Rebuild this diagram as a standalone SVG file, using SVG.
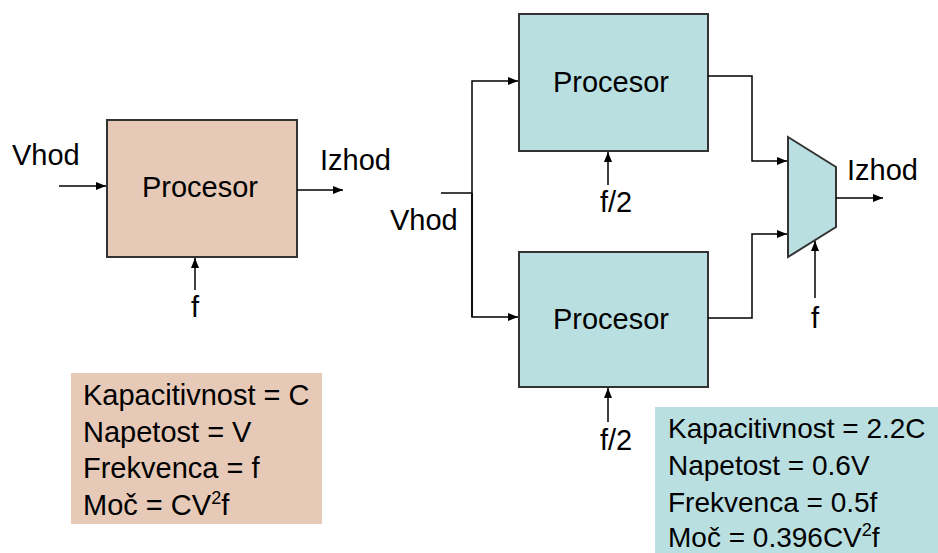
<svg xmlns="http://www.w3.org/2000/svg" width="938" height="553" viewBox="0 0 938 553">
<defs>
<marker id="arr" markerWidth="10" markerHeight="8" refX="10" refY="4" orient="auto" markerUnits="userSpaceOnUse">
<path d="M0,0 L10,4 L0,8 Z" fill="#000"/>
</marker>
<style>
text{font-family:"Liberation Sans",Arial,sans-serif;fill:#000;}
.lbl{font-size:29px;}
.info{font-size:28px;}
.tan{fill:#e6c9b7;}
.cyan{fill:#b9dfe1;}
.blk{stroke:#333;stroke-width:2;}
.wire{fill:none;stroke:#000;stroke-width:1.5;}
.arrw{fill:none;stroke:#000;stroke-width:1.5;marker-end:url(#arr);}
</style>
</defs>
<rect width="938" height="553" fill="#fff"/>

<g id="proc-left">
<rect class="tan blk" x="107" y="120" width="190" height="137"/>
<text class="lbl" x="200" y="197" text-anchor="middle">Procesor</text>
</g>
<g id="vhod-left"><text class="lbl" x="12" y="165">Vhod</text></g>
<g id="izhod-left"><text class="lbl" x="320" y="170">Izhod</text></g>
<g id="f-left"><text class="lbl" x="195" y="317" text-anchor="middle">f</text></g>

<g id="info-left">
<rect class="tan" x="71" y="373" width="251" height="151"/>
<text class="lbl" x="83" y="405">Kapacitivnost = C</text>
<text class="lbl" x="83" y="442">Napetost = V</text>
<text class="lbl" x="83" y="478">Frekvenca = f</text>
<text class="lbl" x="83" y="515">Moč = CV<tspan font-size="18" dy="-11">2</tspan><tspan dy="11">f</tspan></text>
</g>

<g id="proc-top">
<rect class="cyan blk" x="519" y="14" width="189" height="137"/>
<text class="lbl" x="611" y="92" text-anchor="middle">Procesor</text>
</g>
<g id="proc-bottom">
<rect class="cyan blk" x="519" y="252" width="189" height="135"/>
<text class="lbl" x="611" y="329" text-anchor="middle">Procesor</text>
</g>
<g id="mux">
<polygon class="cyan" points="788,137 836,167 836,227 788,257" stroke="#333" stroke-width="2" stroke-linejoin="miter"/>
</g>
<g id="vhod-right"><text class="lbl" x="390" y="230">Vhod</text></g>
<g id="izhod-right"><text class="lbl" x="847" y="180">Izhod</text></g>
<g id="f2-top"><text class="lbl" x="616" y="212" text-anchor="middle">f/2</text></g>
<g id="f2-bottom"><text class="lbl" x="616" y="450" text-anchor="middle">f/2</text></g>
<g id="f-mux"><text class="lbl" x="815" y="328" text-anchor="middle">f</text></g>

<g id="info-right">
<rect class="cyan" x="655" y="407" width="283" height="146"/>
<text class="info" x="668" y="438">Kapacitivnost = 2.2C</text>
<text class="info" x="668" y="475">Napetost = 0.6V</text>
<text class="info" x="668" y="512">Frekvenca = 0.5f</text>
<text class="info" x="668" y="547">Moč = 0.396CV<tspan font-size="18" dy="-11">2</tspan><tspan dy="11">f</tspan></text>
</g>

<g id="connectors">
<line class="arrw" x1="59" y1="186" x2="106" y2="186"/>
<line class="arrw" x1="297" y1="190" x2="343" y2="190"/>
<line class="arrw" x1="195" y1="290" x2="195" y2="258"/>
<polyline class="wire" points="441,193 472,193"/>
<polyline class="arrw" points="472,317 472,81 518,81"/>
<polyline class="arrw" points="472,193 472,317 518,317"/>
<line class="arrw" x1="608" y1="185" x2="608" y2="152"/>
<line class="arrw" x1="608" y1="422" x2="608" y2="388"/>
<polyline class="arrw" points="708,76 752,76 752,161 787,161"/>
<polyline class="arrw" points="708,318 752,318 752,234 787,234"/>
<line class="arrw" x1="836" y1="198" x2="883" y2="198"/>
<line class="arrw" x1="815" y1="298" x2="815" y2="241"/>
</g>
</svg>
